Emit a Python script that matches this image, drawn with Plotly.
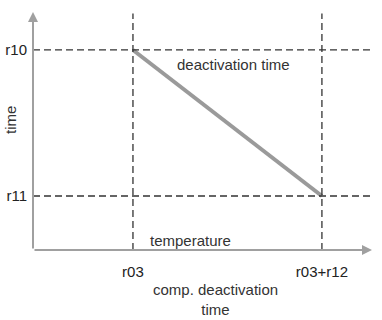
import plotly.graph_objects as go

x_tick_vals = [10, 20]
x_tick_text = ["r03", "r03+r12"]
y_tick_vals = [1, 2]
y_tick_text = ["r11", "r10"]
line_x = [10, 20]
line_y = [2, 1]

W, H = 382, 320
L, R, T, B = 33, 10, 12, 70
xr = [4.71, 22.65]
yr = [0.63, 2.26]

TXT = "Liberation Sans Narrow, Liberation Sans, Arial"

fig = go.Figure()
fig.add_trace(go.Scatter(x=line_x, y=line_y, mode="lines",
                         line=dict(color="#9a9a9a", width=4), hoverinfo="skip"))

for xv in x_tick_vals:
    fig.add_shape(type="line", x0=xv, x1=xv, y0=yr[0], y1=yr[1] - 0.01,
                  line=dict(color="#333333", width=1.3, dash="7px,4px"))
for yv in y_tick_vals:
    fig.add_shape(type="line", x0=xr[0], x1=xr[1], y0=yv, y1=yv,
                  line=dict(color="#333333", width=1.3, dash="7px,4px"))

fig.add_annotation(x=xr[1], y=yr[0], ax=xr[0], ay=yr[0], xref="x", yref="y",
                   axref="x", ayref="y", showarrow=True, arrowhead=2, arrowsize=1,
                   arrowwidth=2, arrowcolor="#a0a0a0", text="")
fig.add_annotation(x=xr[0], y=yr[1], ax=xr[0], ay=yr[0], xref="x", yref="y",
                   axref="x", ayref="y", showarrow=True, arrowhead=2, arrowsize=1,
                   arrowwidth=2, arrowcolor="#a0a0a0", text="")

def px(xp, yp):
    return (xp - L) / (W - L - R), 1 - (yp - T) / (H - T - B)

anns = [
    ("deactivation time", 233, 64, 0),
    ("temperature", 190, 240, 0),
    ("time", 11, 120, -90),
    ("comp. deactivation<br>time", 216, 299, 0),
]
for t, xp, yp, ang in anns:
    ax_, ay_ = px(xp, yp)
    fig.add_annotation(x=ax_, y=ay_, xref="paper", yref="paper", text=t,
                       showarrow=False, textangle=ang,
                       xanchor="center", yanchor="middle",
                       font=dict(family=TXT, size=15, color="#333"))

fig.update_xaxes(range=xr, tickvals=x_tick_vals, ticktext=x_tick_text,
                 showgrid=False, zeroline=False, showline=False, automargin=False,
                 ticks="outside", ticklen=8, tickcolor="rgba(0,0,0,0)",
                 tickfont=dict(family="Liberation Sans, Arial", size=15, color="#222"))
fig.update_yaxes(range=yr, tickvals=y_tick_vals, ticktext=y_tick_text,
                 showgrid=False, zeroline=False, showline=False, automargin=False,
                 ticks="outside", ticklen=2, tickcolor="rgba(0,0,0,0)",
                 tickfont=dict(family="Liberation Sans, Arial", size=15, color="#222"))
fig.update_layout(width=W, height=H, margin=dict(l=L, r=R, t=T, b=B),
                  plot_bgcolor="white", paper_bgcolor="white", showlegend=False)
fig.write_html("out.html", config={"displayModeBar": False},
               post_script="document.body.style.margin='0';")
